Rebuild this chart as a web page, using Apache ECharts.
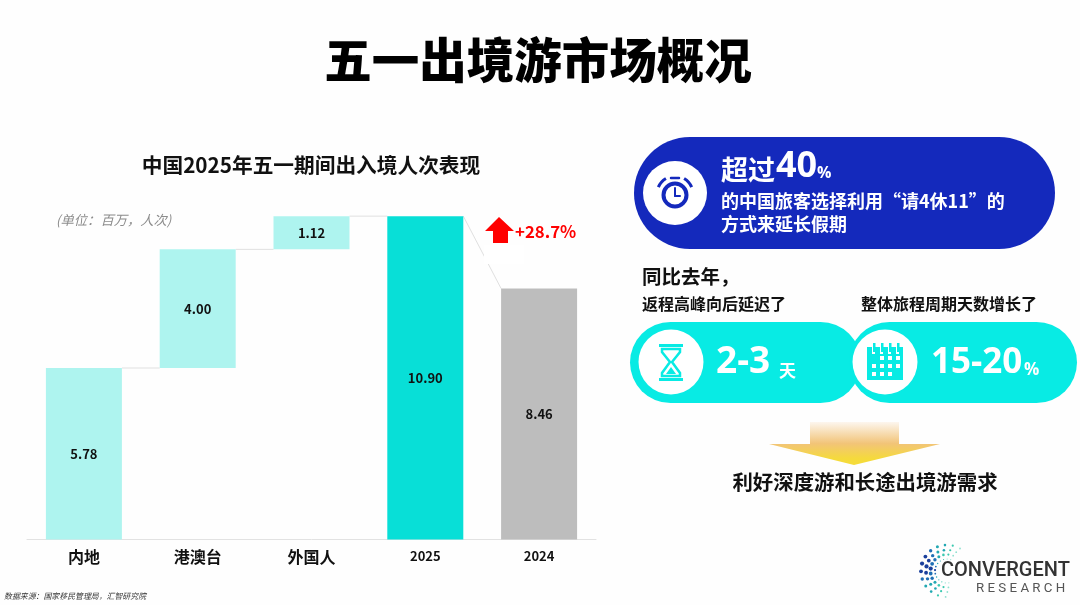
<!DOCTYPE html>
<html><head><meta charset="utf-8">
<style>html,body{margin:0;padding:0;background:#fff}#c{width:1080px;height:605px}</style>
<script src="https://cdn.jsdelivr.net/npm/echarts@6/dist/echarts.min.js"></script>
</head><body><div id="c"></div>
<script>
const categories = ['内地','港澳台','外国人','2025','2024'];
const barValues = [5.78,4.00,1.12,10.90,8.46];
const barOffsets = [0,5.78,9.78,0,0];
const barColors = ['#aef4ef','#aef4ef','#aef4ef','#08dfd7','#bdbdbd'];
const connectorFrom = [5.78,9.78,10.90,10.90];
const connectorTo = [5.78,9.78,10.90,8.46];
const FONT = '"Noto Sans CJK SC","Noto Sans",sans-serif';

function T(x,y,text,size,color,opt){
  opt = opt||{};
  return {type:'text',z:50,x:x,y:y,style:{text:text,fontSize:size,fill:color,fontFamily:opt.family||FONT,
    fontWeight:opt.weight||'bold',fontStyle:opt.italic?'italic':'normal',textAlign:opt.align||'left',textVerticalAlign:'middle',textBaseline:'middle'}};
}
function R(x,y,w,h,fill,r){return {type:'rect',z:r===undefined?40:30,shape:{x,y,width:w,height:h,r:r||0},style:{fill}};}
function C(cx,cy,r,fill){return {type:'circle',z:40,shape:{cx,cy,r},style:{fill}};}
function Line(x1,y1,x2,y2,color,w){return {type:'line',z:45,shape:{x1,y1,x2,y2},style:{stroke:color,lineWidth:w,lineCap:'round'}};}
function Poly(points,fill){return {type:'polygon',z:45,shape:{points},style:{fill}};}

const BLUE='#1429bc', CY='#08ebe4';
const g=[];
// headings
g.push(T(538,60,'五一出境游市场概况',47.5,'#000',{align:'center',weight:900}));
g.push(T(311,165,'中国2025年五一期间出入境人次表现',20.7,'#111',{align:'center'}));
g.push(T(56,220,'(单位：百万，人次)',13.3,'#8c8c8c',{italic:true,weight:'normal'}));
g.push(T(4,596,'数据来源：国家移民管理局，汇智研究院',7.9,'#333',{italic:true,weight:'normal'}));
// break in diagonal connector + growth arrow
g.push(R(484,245,40,19,'#ffffff'));
g.push(Poly([[499,217],[514,231],[508,231],[508,243],[493,243],[493,231],[485,231]],'#ff0000'));
g.push(T(515,232,'+28.7%',16.8,'#ff0000'));
// blue pill
g.push(R(634,137,421,112,BLUE,56));
g.push(C(675,193,32,'#fff'));
g.push({type:'circle',z:45,shape:{cx:675,cy:195,r:11.5},style:{fill:'none',stroke:BLUE,lineWidth:4}});
g.push(Line(675,188,675,196,BLUE,2),Line(675,196,680,196,BLUE,2),Line(671,178,679,178,BLUE,2.5));
g.push({type:'arc',z:45,shape:{cx:675,cy:194,r:18,startAngle:-2.75,endAngle:-2.1},style:{stroke:BLUE,lineWidth:3,fill:'none'}});
g.push({type:'arc',z:45,shape:{cx:675,cy:194,r:18,startAngle:-1.04,endAngle:-0.39},style:{stroke:BLUE,lineWidth:3,fill:'none'}});
g.push(T(721,170,'超过',27,'#fff'));
g.push(T(776,167,'40',36,'#fff',{family:'"Open Sans",sans-serif'}));
g.push(T(817,173,'%',16,'#fff',{family:'"Open Sans",sans-serif'}));
g.push(T(721,201,'的中国旅客选择利用“请4休11”的',18,'#fff'));
g.push(T(721,224,'方式来延长假期',18,'#fff'));
// comparison heads
g.push(T(642,277,'同比去年，',19.5,'#111'));
g.push(T(642,304,'返程高峰向后延迟了',16,'#111'));
g.push(T(861,304,'整体旅程周期天数增长了',16,'#111'));
// cyan pills
g.push(R(630,322,231,81,CY,40.5));
g.push(R(849,322,228,81,CY,40.5));
g.push(C(671,362,32.5,'#fff'), C(885,362,32.5,'#fff'));
// hourglass
g.push(R(659,344,24,3,CY),R(659,378,24,3,CY));
g.push({type:'polygon',z:45,shape:{points:[[662,349],[680,349],[680,352],[672,362],[680,373],[680,376],[662,376],[662,373],[670,362],[662,352]]},style:{fill:'#fff',stroke:CY,lineWidth:2.5}});
g.push(Poly([[666,374],[676,374],[671,367]],CY));
// calendar
g.push(R(867,347,36,33,CY));
g.push(R(872,344,3,10,'#fff'),R(880,344,3,10,'#fff'),R(888,344,3,10,'#fff'),R(896,344,3,10,'#fff'));
g.push(R(873,343,2.5,9,CY),R(881,343,2.5,9,CY),R(889,343,2.5,9,CY),R(897,343,2.5,9,CY));
[[872,356],[880,356],[888,356],[896,356],[872,364],[880,364],[888,364],[896,364],[872,372],[880,372],[888,372],[896,372]]
  .forEach(p=>{ if(!(p[0]===896&&p[1]===372)&&!(p[0]===872&&p[1]===356)) g.push(R(p[0],p[1],4,4,'#fff')); });
g.push(T(716,362,'2-3',37,'#fff',{family:'"Open Sans",sans-serif'}));
g.push(T(779,371,'天',17,'#fff'));
g.push(T(931,363,'15-20',35,'#fff',{family:'"Open Sans",sans-serif'}));
g.push(T(1024,370,'%',17,'#fff',{family:'"Open Sans",sans-serif'}));
// yellow arrow
g.push({type:'polygon',z:45,shape:{points:[[810,422],[899,422],[899,444],[940,444],[854,465],[769,444],[810,444]]},
  style:{fill:new echarts.graphic.LinearGradient(0,0,0,1,[{offset:0,color:'#fdf6ee'},{offset:.5,color:'#f2c478'},{offset:.85,color:'#f5da3c'},{offset:1,color:'#f5dc3a'}])}});
g.push(T(865,482,'利好深度游和长途出境游需求',20.4,'#111',{align:'center'}));
// logo: radial spokes of dots, navy and large on the left, teal and small at the ends
const ringRadii=[12,16.5,21,26];
const ringColors=['#1a3f9c','#1f6fb5','#22a8b2','#3cc9b0','#8fe0cf'];
ringRadii.forEach((rad,ring)=>{
  const n=13;
  for(let k=0;k<n;k++){
    const t=k/(n-1), off=Math.abs(t-.5)*2;
    const a=Math.PI*0.45+Math.PI*1.15*t+ring*0.07;
    g.push({type:'circle',z:40,shape:{cx:947+rad*Math.cos(a),cy:571+rad*Math.sin(a),r:Math.max(.6,(ring>0?2.1:1.1)-off*1.2)},
      style:{fill:ringColors[Math.min(4,Math.floor(off*4+ (3-ring)*.25))]}});
  }
});
g.push(T(941,571,'CONVERGENT',20,'#333',{family:'Roboto,sans-serif',weight:500}));
g.push(T(976,589,'R E S E A R C H',13.3,'#555',{family:'Roboto,sans-serif',weight:400}));

const chart=echarts.init(document.getElementById('c'),null,{renderer:'canvas'});
chart.setOption({
  animation:false,
  backgroundColor:'#fefefe',
  grid:{left:27,right:484,top:183.5,bottom:65.5,containLabel:false},
  xAxis:{type:'category',data:categories,axisTick:{show:false},
    axisLine:{lineStyle:{color:'#e2e2e2',width:1}},
    axisLabel:{margin:8,interval:0,formatter:v=>/^\d/.test(v)?`{n|${v}}`:`{c|${v}}`,
      rich:{c:{fontSize:16,lineHeight:18,fontWeight:'bold',color:'#111',fontFamily:FONT},n:{fontSize:13,lineHeight:18,fontWeight:'bold',color:'#111',fontFamily:FONT}}}},
  yAxis:{type:'value',min:0,max:12,show:false,splitLine:{show:false}},
  series:[
    {type:'bar',stack:'w',barWidth:76,data:barOffsets,itemStyle:{color:'transparent'},silent:true},
    {type:'bar',stack:'w',barWidth:76,data:barValues.map((v,i)=>({value:v,itemStyle:{color:barColors[i]}})),
      label:{show:true,position:'inside',formatter:p=>p.value.toFixed(2),fontSize:13,fontWeight:'bold',color:'#111',fontFamily:FONT}},
    {type:'custom',coordinateSystem:'cartesian2d',z:1,
      data:connectorFrom.map((v,i)=>[i,v,connectorTo[i]]),encode:{x:0,y:1},
      renderItem:(p,api)=>{
        const a=api.coord([api.value(0),api.value(1)]), b=api.coord([api.value(0)+1,api.value(2)]);
        return {type:'line',shape:{x1:a[0]+38,y1:a[1],x2:b[0]-38,y2:b[1]},style:{stroke:'#e0e0e0',lineWidth:1}};
      }}
  ],
  graphic:{elements:g}
});
</script></body></html>
